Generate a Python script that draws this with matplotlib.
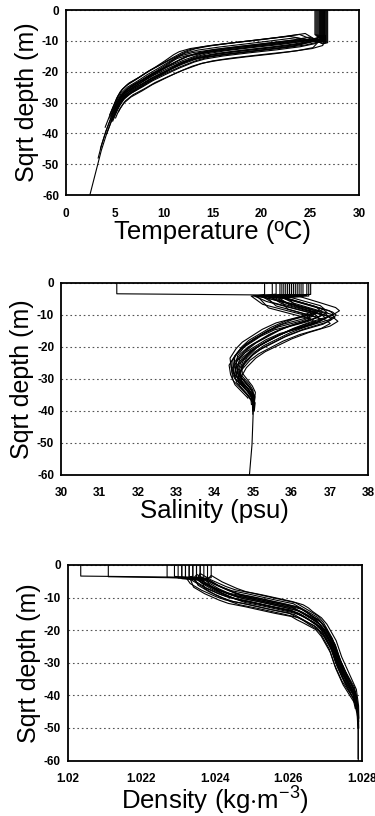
#!/usr/bin/env python3
"""
Vertical profiles of temperature, salinity and density vs sqrt depth.
"""
import numpy as np
import matplotlib
matplotlib.use('Agg')
import matplotlib.pyplot as plt

plt.rcParams['font.family'] = ['Liberation Sans', 'DejaVu Sans']
plt.rcParams['mathtext.fontset'] = 'custom'
plt.rcParams['mathtext.rm'] = 'Liberation Sans'
plt.rcParams['mathtext.it'] = 'Liberation Sans'

# per-profile offsets (20 casts): depth shift and relative value shift
CAST_DZ = [-2.2, -1.8, -1.5, -1.2, -0.9, -0.7, -0.5, -0.3, -0.1, 0.0,
           0.2, 0.4, 0.6, 0.8, 1.0, 1.2, 1.5, 1.8, 2.1, 2.4]
CAST_DV = [0.4, -0.6, 0.9, -0.2, 0.5, -0.9, 0.1, 0.7, -0.4, 0.3,
           -0.7, 0.8, -0.1, 0.6, -0.5, 0.2, -0.8, 1.0, -0.3, 0.0]

# Temperature
T_DEPTH = [-9.5, -10, -11, -12, -13, -14, -15, -16, -18, -20, -22, -24, -26,
           -28, -30, -32, -35, -40, -45, -50, -55, -60]
T_MEAN = [26.3, 24.5, 22.5, 20.0, 17.2, 14.8, 13.2, 12.3, 11.0, 9.8, 8.6, 7.6,
          6.5, 5.8, 5.4, 5.1, 4.7, 4.1, 3.6, 3.2, 2.8, 2.4]
T_SPREAD = [0.3, 2.0, 3.0, 3.2, 3.0, 2.6, 2.0, 1.6, 1.1, 0.8, 0.6, 0.5, 0.4,
            0.3, 0.25, 0.2, 0.2, 0.25, 0.2, 0.15, 0.1, 0.05]
T_SURF = [25.5, 25.6, 25.7, 25.8, 25.9, 26.0, 26.0, 26.1, 26.1, 26.2,
          26.2, 26.3, 26.3, 26.4, 26.4, 26.5, 26.5, 26.6, 26.7, 26.8]
T_MLD = [-8.0, -8.3, -8.5, -8.7, -8.9, -9.0, -9.1, -9.2, -9.3, -9.4,
         -9.5, -9.6, -9.7, -9.8, -9.9, -10.0, -10.1, -10.2, -10.4, -10.6]
T_END = [-33, -34, -35, -33, -36, -34, -60, -35, -33, -40,
         -34, -36, -45, -33, -35, -48, -34, -36, -38, -33]

# Salinity
S_DEPTH = [-4.5, -6, -8, -9.5, -10.5, -12, -14, -16, -18, -20, -22, -25, -28,
           -30, -32, -34, -36, -38, -40, -50, -60]
S_MEAN = [35.4, 35.7, 36.3, 36.75, 36.85, 36.6, 36.0, 35.6, 35.3, 35.0, 34.8,
          34.6, 34.55, 34.6, 34.75, 34.9, 35.0, 35.0, 35.0, 34.97, 34.9]
S_SPREAD = [0.5, 0.5, 0.45, 0.4, 0.4, 0.45, 0.5, 0.45, 0.4, 0.35, 0.3, 0.25,
            0.15, 0.12, 0.1, 0.08, 0.06, 0.04, 0.03, 0.02, 0.02]
S_SURF = [31.45, 35.3, 35.5, 35.6, 35.7, 35.8, 35.85, 35.9, 36.0, 36.05,
          36.1, 36.2, 36.25, 36.3, 36.4, 36.45, 36.5, 35.95, 36.15, 35.75]
S_MLD = [-3.4, -3.6, -3.8, -3.5, -4.0, -3.7, -3.9, -4.1, -3.6, -4.2,
         -3.8, -4.0, -3.7, -4.3, -3.9, -4.1, -3.6, -4.0, -3.8, -4.2]
S_END = [-38, -36, -40, -37, -39, -38, -60, -36, -40, -38,
         -37, -39, -41, -36, -38, -40, -37, -39, -38, -36]

# Density
D_DEPTH = [-4.5, -5, -7, -9, -10, -11, -12, -13, -14, -15, -16, -18, -20,
           -25, -30, -35, -40, -45, -50, -60]
D_MEAN = [1.0235, 1.0236, 1.0239, 1.0243, 1.02455, 1.0250, 1.0254, 1.0258,
          1.0262, 1.02635, 1.0265, 1.0268, 1.02695, 1.0272, 1.02735, 1.02755,
          1.0278, 1.02788, 1.0279, 1.0279]
D_SPREAD = [0.0003, 0.0003, 0.0003, 0.0003, 0.0003, 0.0003, 0.0003, 0.0003,
            0.0002, 0.0002, 0.00015, 0.0001, 0.0001, 0.0001, 0.0001, 0.0001,
            0.00005, 0.00003, 0.00002, 0.00002]
D_SURF = [1.02035, 1.0211, 1.0227, 1.0229, 1.0230, 1.0231, 1.0232, 1.0233,
          1.0234, 1.0235, 1.0236, 1.0236, 1.0237, 1.0238, 1.0239, 1.0232,
          1.0234, 1.0235, 1.0233, 1.0231]
D_MLD = S_MLD
D_END = [-48, -42, -50, -45, -47, -44, -60, -43, -50, -46,
         -44, -48, -60, -42, -45, -49, -43, -47, -46, -44]


def cast_line(surf, mld, depth, mean, spread, dz, dv, end):
    z = np.array(depth, dtype=float) + dz
    v = np.array(mean) + dv * np.array(spread)
    z[0] = mld - 0.4  # step out of the mixed layer
    keep = z >= end
    zs = [0, mld] + list(z[keep])
    vs = [surf, surf] + list(v[keep])
    if z[keep][-1] > end and z[-1] < end:
        zs.append(end)
        vs.append(np.interp(end, z[::-1], v[::-1]))
    return vs, zs


def draw_panel(ax, surf, mld, depth, mean, spread, end, xlim, xticks, xticklabels,
               xlabel, xlabelpad=0):
    for i in range(len(surf)):
        x, y = cast_line(surf[i], mld[i], depth, mean, spread,
                         CAST_DZ[i], CAST_DV[i], end[i])
        ax.plot(x, y, color='black', lw=0.8)
    ax.set_xlim(*xlim)
    ax.set_ylim(-60, 0)
    ax.set_yticks(range(-60, 1, 10))
    ax.set_yticklabels(['-60', '-50', '-40', '-30', '-20', '-10', '0'])
    ax.set_xticks(xticks)
    ax.set_xticklabels(xticklabels)
    ax.yaxis.grid(True, linestyle=(0, (1.5, 2.5)), color='#555555', lw=0.8)
    ax.tick_params(length=0, labelsize=8.5, pad=5)
    ax.tick_params(axis='x', pad=9)
    for lab in ax.get_xticklabels() + ax.get_yticklabels():
        lab.set_fontweight('bold')
    for sp in ax.spines.values():
        sp.set_linewidth(1.3)
    ax.set_xlabel(xlabel, fontsize=18.5, labelpad=xlabelpad)
    ax.set_ylabel('Sqrt depth (m)', fontsize=18, labelpad=2)


fig = plt.figure(figsize=(3.75, 8.16), dpi=100)
ax1 = fig.add_axes([0.176, 0.761, 0.781, 0.2267])
ax2 = fig.add_axes([0.163, 0.418, 0.819, 0.2353])
ax3 = fig.add_axes([0.181, 0.068, 0.784, 0.2396])

draw_panel(ax1, T_SURF, T_MLD, T_DEPTH, T_MEAN, T_SPREAD, T_END, (0, 30),
           range(0, 31, 5), [str(v) for v in range(0, 31, 5)],
           'Temperature (\u00baC)')
draw_panel(ax2, S_SURF, S_MLD, S_DEPTH, S_MEAN, S_SPREAD, S_END, (30, 38),
           range(30, 39), [str(v) for v in range(30, 39)],
           'Salinity (psu)')
draw_panel(ax3, D_SURF, D_MLD, D_DEPTH, D_MEAN, D_SPREAD, D_END, (1.020, 1.028),
           [1.020, 1.022, 1.024, 1.026, 1.028],
           ['1.02', '1.022', '1.024', '1.026', '1.028'],
           r'Density (kg$\cdot$m$^{-3}$)', xlabelpad=0)

fig.savefig('out.png', dpi=100)
